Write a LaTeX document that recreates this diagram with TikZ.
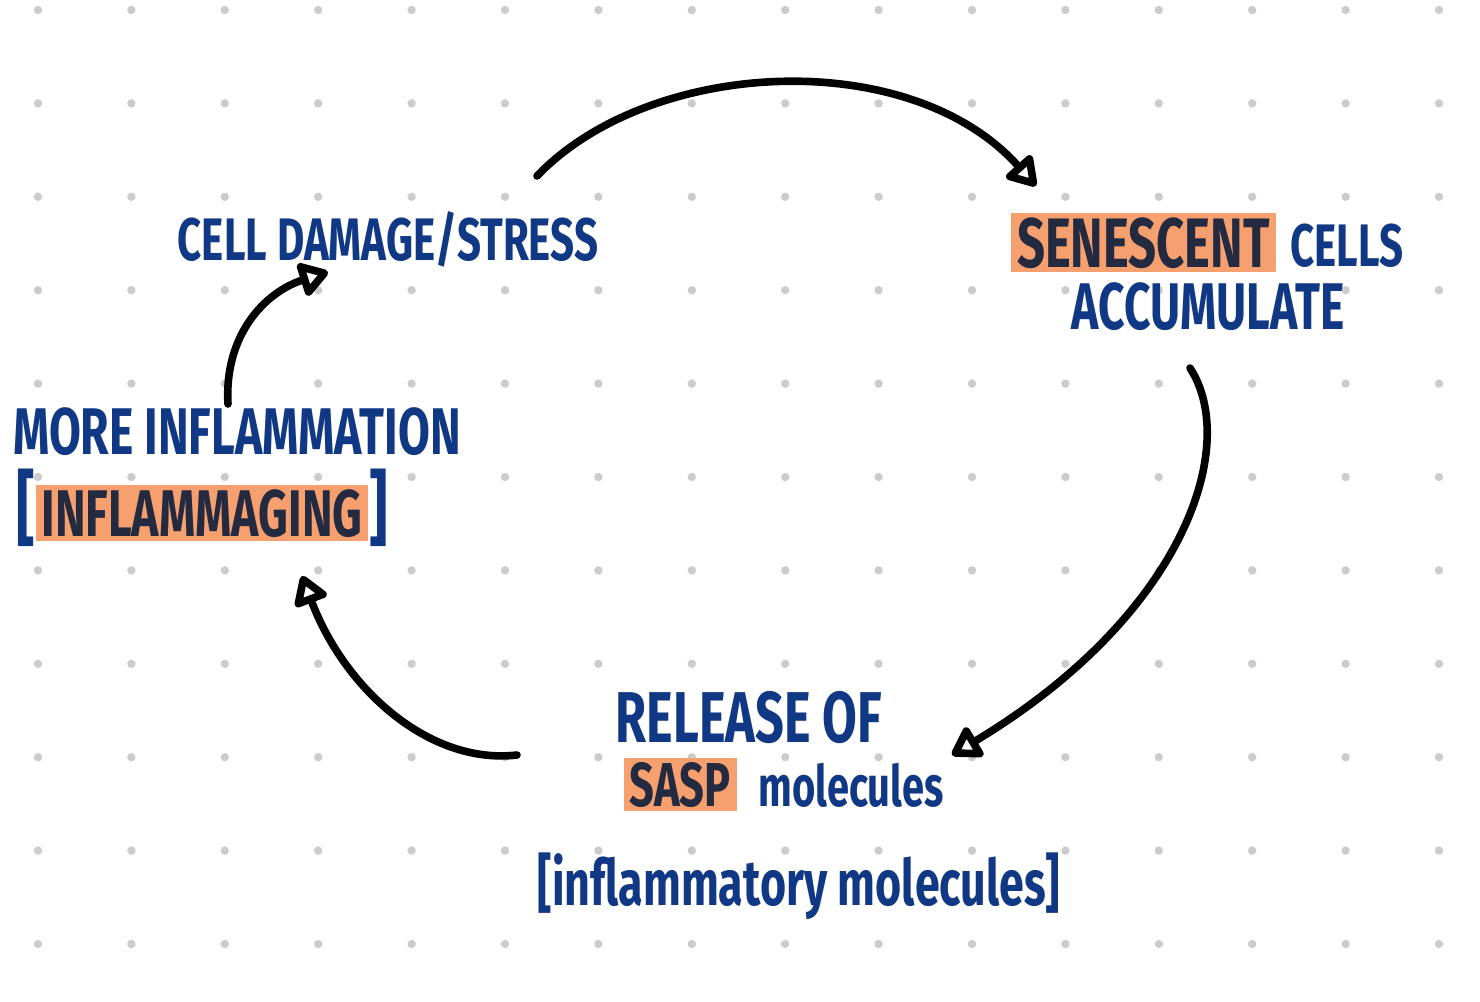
\documentclass[tikz,border=0pt]{standalone}
\usepackage{fontspec}
\newfontfamily\hand{Fira Sans}[UprightFont={* Bold},FakeStretch=0.7]
\usetikzlibrary{arrows.meta}
\definecolor{ink}{RGB}{16,56,132}
\definecolor{inkdark}{RGB}{36,42,64}
\definecolor{marker}{RGB}{246,160,112}
\definecolor{griddot}{RGB}{204,204,204}
\newcommand\handsize[1]{\hand\fontsize{#1}{#1}\selectfont}
\tikzset{
  caps/.style={font=\handsize{30},text=ink,inner sep=0pt},
  highlit/.style={fill=marker,text=inkdark,inner xsep=3pt,inner ysep=2pt},
  cyclearrow/.style={draw=black,line width=3.8pt,line cap=round,
    -{Triangle[open,length=16pt,width=19pt,round]}},
}
\begin{document}
\begin{tikzpicture}[x=0.5pt,y=-0.5pt]
%% page and dot grid
\fill[white] (0,0) rectangle (1480,1002);
\useasboundingbox (0,0) rectangle (1480,1002);
\foreach \i in {0,...,15}
  \foreach \j in {0,...,10}
    \fill[griddot] (38+93.4*\i,10+93.4*\j) circle [radius=2.1pt];
%% texts
\node[caps,anchor=base] (damage) at (388,260) {CELL DAMAGE/STRESS};
\node[caps,highlit,font=\handsize{35},anchor=base east] (senescent) at (1276,267) {SENESCENT};
\node[caps,anchor=base west] (cells) at (1290,266) {CELLS};
\node[caps,font=\handsize{33},anchor=base] (accumulate) at (1208,329) {ACCUMULATE};
\node[caps,font=\handsize{36},anchor=base] (release) at (749,742) {RELEASE OF};
\node[caps,highlit,font=\handsize{31},anchor=base east] (sasp) at (737,806) {SASP};
\node[caps,font=\handsize{28.5},anchor=base west] (molecules) at (758,806) {molecules};
\node[caps,font=\handsize{32},anchor=base] (inflammatory) at (799,905) {[inflammatory molecules]};
\node[caps,font=\handsize{33},anchor=base] (more) at (237,454) {MORE INFLAMMATION};
\node[caps,highlit,font=\handsize{33},anchor=base] (inflammaging) at (202,536) {INFLAMMAGING};
\node[caps,font=\handsize{41},anchor=base east] (lbracket) at (inflammaging.base west) {[};
\node[caps,font=\handsize{41},anchor=base west] (rbracket) at (inflammaging.base east) {]};
%% arrow ends
\coordinate (damage-out) at (537,176);
\coordinate (senescent-in) at (1036,186);
\coordinate (accumulate-out) at (1190,368);
\coordinate (release-in) at (952,755);
\coordinate (sasp-out) at (517,755);
\coordinate (inflammaging-in) at (302,576);
\coordinate (more-out) at (228,404);
\coordinate (damage-in) at (328,272);
%% cycle
\draw[cyclearrow] (damage-out) .. controls (650,58) and (910,45) .. (senescent-in);
\draw[cyclearrow] (accumulate-out) .. controls (1240,445) and (1185,615) .. (release-in);
\draw[cyclearrow] (sasp-out) .. controls (430,765) and (345,690) .. (inflammaging-in);
\draw[cyclearrow] (more-out) .. controls (224,335) and (265,292) .. (damage-in);
%
\end{tikzpicture}
\end{document}
